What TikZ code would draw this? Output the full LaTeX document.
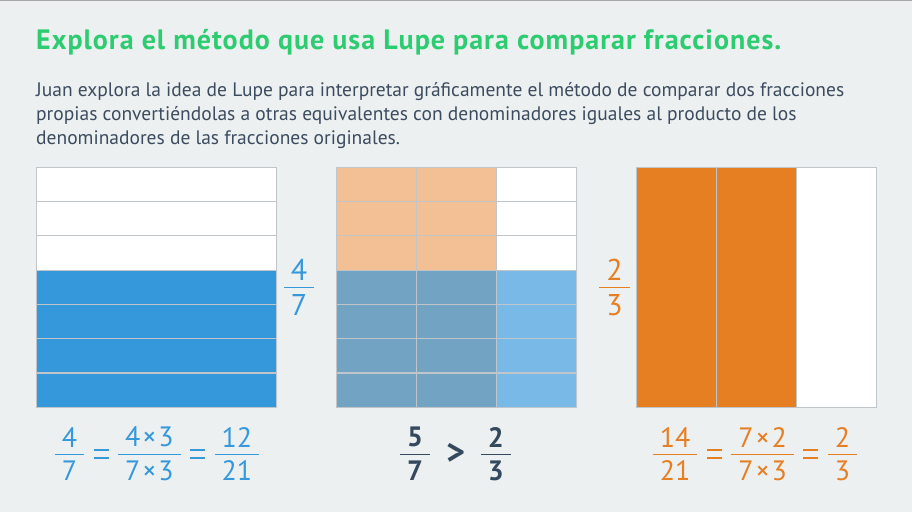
\documentclass[tikz,border=0pt]{standalone}
\usepackage{fontspec}
\setmainfont{PT Sans}
\definecolor{bg}{HTML}{ECF0F1}
\definecolor{titlegreen}{HTML}{2ECC71}
\definecolor{bodytext}{HTML}{3C4B5E}
\definecolor{gridline}{HTML}{BFC5C9}
\definecolor{blueA}{HTML}{3498DB}
\definecolor{peach}{HTML}{F2C094}
\definecolor{steel}{HTML}{73A3C2}
\definecolor{lightblue}{HTML}{79B9E7}
\definecolor{orangeA}{HTML}{E67E22}
\definecolor{darktext}{HTML}{34495E}
\newlength\fgap
\setlength\fgap{6.5pt}
\newcommand\fr[3][7pt]{\ensuremath{\vcenter{\offinterlineskip\halign{\hfil\kern#1##\kern#1\hfil\cr #2\cr\noalign{\vskip\fgap\hrule height 1pt\vskip\fgap}#3\cr}}}}
\newcommand\tm{\kern2pt×\kern2pt}
\newcommand\eqsign{\ensuremath{\vcenter{\offinterlineskip\hbox{\rule{15pt}{2.3pt}}\vskip5.5pt\hbox{\rule{15pt}{2.3pt}}}}}
\newcommand\gtsign{\ensuremath{\vcenter{\hbox{\fontsize{36}{36}\selectfont\bfseries >}}}}
\newcommand\sep{\hspace{9.5pt}}
\tikzset{
  titletext/.style={anchor=base west, inner sep=0pt, text=titlegreen, font=\fontsize{28}{32}\selectfont\bfseries\addfontfeature{LetterSpace=3.6}},
  bodyline/.style={anchor=base west, inner sep=0pt, text=bodytext, font=\fontsize{19.5}{23}\selectfont},
  cellline/.style={draw=gridline, line width=1.2pt},
  sidefrac/.style={inner sep=0pt, font=\fontsize{30}{36}\selectfont},
  eqtext/.style={inner sep=0pt, font=\fontsize{28}{32}\selectfont},
}
\begin{document}
\begin{tikzpicture}[x=1pt,y=-1pt]
\useasboundingbox (0,0) rectangle (912,512);
\fill[bg] (0,0) rectangle (912,512);
\draw[color=gray!70, line width=1.5pt] (0,0.5) -- (912,0.5);

\node[titletext] (title) at (36,49.3) {Explora el método que usa Lupe para comparar fracciones.};
\node[bodyline] (body1) at (36,96.7) {Juan explora la idea de Lupe para interpretar gráficamente el método de comparar dos fracciones};
\node[bodyline] (body2) at (36,120.3) {propias convertiéndolas a otras equivalentes con denominadores iguales al producto de los};
\node[bodyline] (body3) at (36,144) {denominadores de las fracciones originales.};

% grid 1: sevenths
\def\gx{36.7}\def\gy{167.3}\def\rh{34.2857}
\foreach \i in {0,...,6}{
  \ifnum\i<3 \def\cc{white}\else\def\cc{blueA}\fi
  \fill[\cc] (\gx,\gy+\i*\rh) rectangle (\gx+240,\gy+\i*\rh+\rh);
}
\foreach \i in {1,...,6}{\draw[cellline] (\gx,\gy+\i*\rh) -- (\gx+240,\gy+\i*\rh);}
\draw[cellline] (\gx,\gy) rectangle (\gx+240,\gy+240);

% grid 2: combined
\def\hx{336.7}
\foreach \i in {0,...,6}{
  \foreach \j in {0,1,2}{
    \ifnum\i<3
      \ifnum\j<2 \def\cc{peach}\else\def\cc{white}\fi
    \else
      \ifnum\j<2 \def\cc{steel}\else\def\cc{lightblue}\fi
    \fi
    \fill[\cc] (\hx+\j*80,\gy+\i*\rh) rectangle (\hx+\j*80+80,\gy+\i*\rh+\rh);
  }
}
\foreach \i in {1,...,6}{\draw[cellline] (\hx,\gy+\i*\rh) -- (\hx+240,\gy+\i*\rh);}
\foreach \j in {1,2}{\draw[cellline] (\hx+\j*80,\gy) -- (\hx+\j*80,\gy+240);}
\draw[cellline] (\hx,\gy) rectangle (\hx+240,\gy+240);

% grid 3: thirds
\def\kx{636.7}
\fill[orangeA] (\kx,\gy) rectangle (\kx+160,\gy+240);
\fill[white] (\kx+160,\gy) rectangle (\kx+240,\gy+240);
\foreach \j in {1,2}{\draw[cellline] (\kx+\j*80,\gy) -- (\kx+\j*80,\gy+240);}
\draw[cellline] (\kx,\gy) rectangle (\kx+240,\gy+240);

% side fractions
\node[sidefrac, text=blueA] (fa) at (299,287.7) {\fr{4}{7}};
\node[sidefrac, text=orangeA] (fb) at (614.5,287.7) {\fr{2}{3}};

% equations
\node[eqtext, text=blueA] (eqa) at (157,454) {\fr{4}{7}\sep\eqsign\sep\fr[7pt]{4\tm3}{7\tm3}\sep\eqsign\sep\fr[7pt]{12}{21}};
\node[eqtext, text=darktext, font=\fontsize{28}{32}\selectfont\bfseries] (eqb) at (455.5,454) {\fr{5}{7}\hspace{16pt}\gtsign\hspace{16pt}\fr{2}{3}};
\node[eqtext, text=orangeA] (eqc) at (755,454) {\fr[7pt]{14}{21}\sep\eqsign\sep\fr[7pt]{7\tm2}{7\tm3}\sep\eqsign\sep\fr{2}{3}};
\end{tikzpicture}
\end{document}
